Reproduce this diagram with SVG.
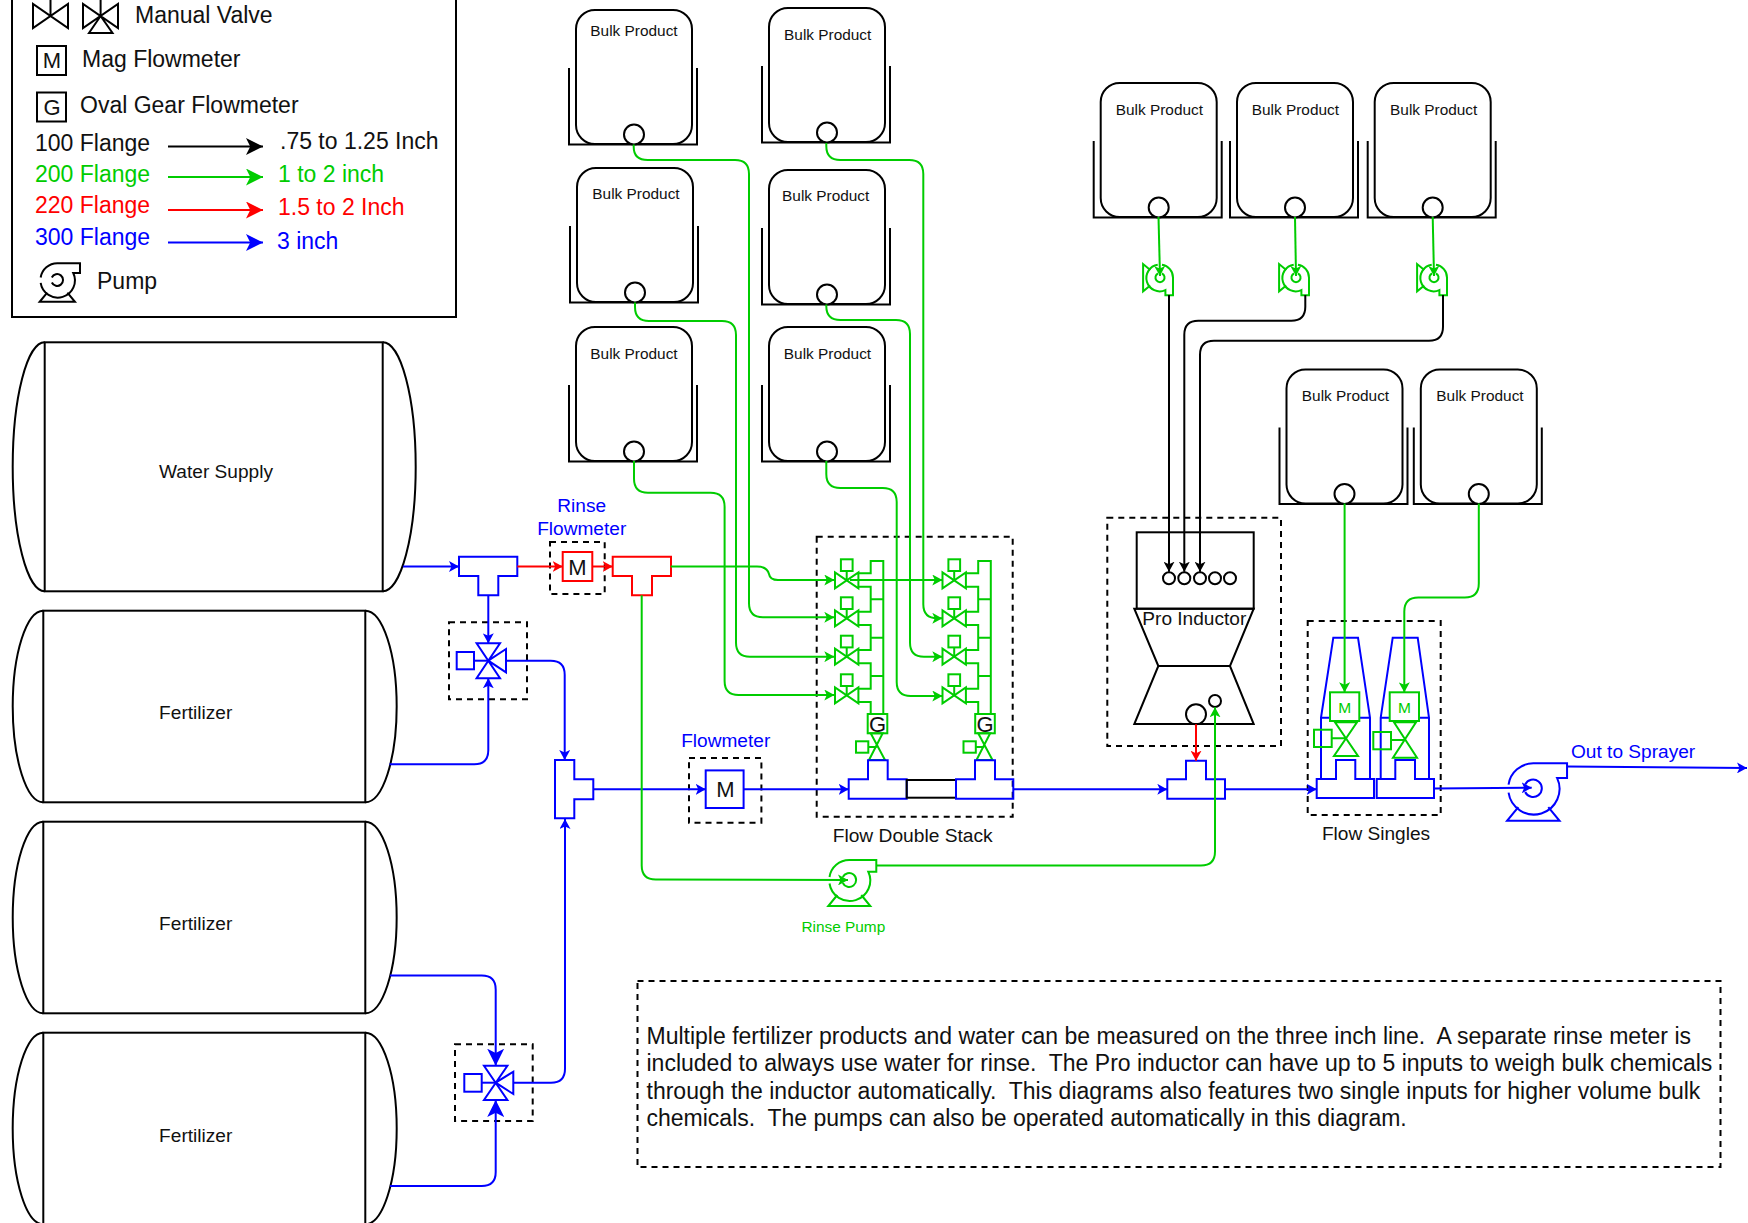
<svg xmlns="http://www.w3.org/2000/svg" width="1748" height="1223" viewBox="0 0 1748 1223">
<style>
text{font-family:"Liberation Sans",Arial,sans-serif;fill:#111;white-space:pre}
.c{text-anchor:middle}
.k{fill:none;stroke:#000;stroke-width:2}
.w{fill:#fff;stroke:#000;stroke-width:2}
.b{fill:none;stroke:#00f;stroke-width:2}
.bw{fill:#fff;stroke:#00f;stroke-width:2}
.g{fill:none;stroke:#0c0;stroke-width:2}
.gw{fill:#fff;stroke:#0c0;stroke-width:2}
.r{fill:none;stroke:#f00;stroke-width:2}
.rw{fill:#fff;stroke:#f00;stroke-width:2}
.d{fill:none;stroke:#000;stroke-width:2;stroke-dasharray:6 5}
.ns *{vector-effect:non-scaling-stroke}
.t15{font-size:15.4px}.t19{font-size:19.1px}.t20{font-size:19.2px}.t22{font-size:23px}
.tb{fill:#00f}.tg{fill:#0c0}.tr{fill:#f00}
</style>
<defs>
<marker id="ak" markerUnits="userSpaceOnUse" viewBox="0 0 10 10" refX="10" refY="5" markerWidth="10" markerHeight="11" orient="auto" preserveAspectRatio="none"><path d="M0,0L10,5L0,10L2.5,5z" fill="#000"/></marker>
<marker id="ab" markerUnits="userSpaceOnUse" viewBox="0 0 10 10" refX="10" refY="5" markerWidth="10" markerHeight="11" orient="auto" preserveAspectRatio="none"><path d="M0,0L10,5L0,10L2.5,5z" fill="#00f"/></marker>
<marker id="ag" markerUnits="userSpaceOnUse" viewBox="0 0 10 10" refX="10" refY="5" markerWidth="10" markerHeight="11" orient="auto" preserveAspectRatio="none"><path d="M0,0L10,5L0,10L2.5,5z" fill="#0c0"/></marker>
<marker id="ar" markerUnits="userSpaceOnUse" viewBox="0 0 10 10" refX="10" refY="5" markerWidth="10" markerHeight="11" orient="auto" preserveAspectRatio="none"><path d="M0,0L10,5L0,10L2.5,5z" fill="#f00"/></marker>
<marker id="akl" markerUnits="userSpaceOnUse" viewBox="0 0 10 10" refX="10" refY="5" markerWidth="17" markerHeight="17" orient="auto" preserveAspectRatio="none"><path d="M0,0L10,5L0,10L2.5,5z" fill="#000"/></marker>
<marker id="abl" markerUnits="userSpaceOnUse" viewBox="0 0 10 10" refX="10" refY="5" markerWidth="17" markerHeight="17" orient="auto" preserveAspectRatio="none"><path d="M0,0L10,5L0,10L2.5,5z" fill="#00f"/></marker>
<marker id="agl" markerUnits="userSpaceOnUse" viewBox="0 0 10 10" refX="10" refY="5" markerWidth="17" markerHeight="17" orient="auto" preserveAspectRatio="none"><path d="M0,0L10,5L0,10L2.5,5z" fill="#0c0"/></marker>
<marker id="arl" markerUnits="userSpaceOnUse" viewBox="0 0 10 10" refX="10" refY="5" markerWidth="17" markerHeight="17" orient="auto" preserveAspectRatio="none"><path d="M0,0L10,5L0,10L2.5,5z" fill="#f00"/></marker>
<g id="pump" class="ns">
<path d="M-19.8,-3A20,20 0 0 1 0,-20H27V-8.3H19A20.5,20.5 0 1 1 -19.8,3.5" fill="none"/>
<path d="M-6.5,-3A7,7 0 1 1 -6.5,3" fill="none"/>
<path d="M-12,15L-21,26H21L12,15" fill="none"/>
</g>
<g id="bulk">
<path class="k" d="M-7,58V134.500H121V58"/>
<rect class="w" x="0" y="0" width="116" height="134" rx="19"/>
<circle class="w" cx="58" cy="124.500" r="10"/>
</g>
<g id="hv" class="g">
<path d="M-11.700,-8V8L11.700,-8V8z"/>
<path d="M0,0V-9.500"/>
<rect x="-5.800" y="-21" width="11.700" height="11.700"/>
</g>
<g id="stack" class="g">
<use href="#hv" x="846.700" y="580.300"/>
<use href="#hv" x="846.700" y="618.300"/>
<use href="#hv" x="846.700" y="656.700"/>
<use href="#hv" x="846.700" y="695.300"/>
<path d="M858.300,573.300H870.700V561H883.300V714M858.300,586.700H870.700V599.300H883.300M858.300,611.700H870.700V599.300M858.300,625H870.700V637.700H883.300M858.300,650H870.700V637.700M858.300,663.300H870.700V676H883.300M858.300,688.700H870.700V676M858.300,702H870.700V714"/>
<rect class="gw" x="867.700" y="714" width="19.600" height="19.300"/>
<path d="M870.700,733.300H882.700L869,760H885z"/>
<path d="M876.700,747H868.300"/>
<rect x="856" y="741.300" width="12.300" height="11.400"/>
</g>
<path id="cap" d="M0,0H58.300V19.300H39.300V38.600H19.300V19.300H0z"/>
</defs>

<g id="legend">
<path class="k" d="M12,-5V317H456V-5"/>
<path class="k" d="M33,4V28L68,4V28zM50.500,16V0"/>
<path class="k" d="M83,4V28L118,4V28zM100.600,16V0M100.600,16L89,33H112.500z"/>
<rect class="k" x="37" y="46" width="29" height="29"/><text class="c" x="52" y="68" font-size="22">M</text>
<rect class="k" x="37" y="92.500" width="29" height="29"/><text class="c" x="52" y="114.500" font-size="22">G</text>
<text class="t22" x="135" y="23">Manual Valve</text>
<text class="t22" x="82" y="67">Mag Flowmeter</text>
<text class="t22" x="80" y="113">Oval Gear Flowmeter</text>
<text class="t22" x="35" y="151">100 Flange</text>
<text class="t22 tg" x="35" y="182">200 Flange</text>
<text class="t22 tr" x="35" y="213">220 Flange</text>
<text class="t22 tb" x="35" y="245">300 Flange</text>
<text class="t22" x="280" y="149">.75 to 1.25 Inch</text>
<text class="t22 tg" x="278" y="182">1 to 2 inch</text>
<text class="t22 tr" x="278" y="215">1.5 to 2 Inch</text>
<text class="t22 tb" x="277" y="249">3 inch</text>
<text class="t22" x="97" y="289">Pump</text>
<path class="k" d="M168,146.500H263" marker-end="url(#akl)"/>
<path class="g" d="M168,177H263" marker-end="url(#agl)"/>
<path class="r" d="M168,210H263" marker-end="url(#arl)"/>
<path class="b" d="M168,242.500H263" marker-end="url(#abl)"/>
<use href="#pump" transform="translate(57.300,280) scale(.84)" stroke="#000" stroke-width="2"/>
</g>

<g id="water-supply">
<rect class="w" x="44.700" y="342.300" width="338" height="249"/>
<path class="k" d="M44.700,342.300A32,124.500 0 0 0 44.700,591.300M382.700,342.300A33,124.500 0 0 1 382.700,591.300"/>
<text class="c t19" x="216" y="477.500">Water Supply</text>
</g>
<g id="fertilizer-1">
<rect class="w" x="43.300" y="610.700" width="322" height="191.600"/>
<path class="k" d="M43.300,610.700A30.600,95.800 0 0 0 43.300,802.300M365.300,610.700A31.400,95.800 0 0 1 365.300,802.300"/>
<text class="c t19" x="195.700" y="719">Fertilizer</text>
</g>
<g id="fertilizer-2">
<rect class="w" x="43.300" y="821.700" width="322" height="191.600"/>
<path class="k" d="M43.300,821.700A30.600,95.800 0 0 0 43.300,1013.300M365.300,821.700A31.400,95.800 0 0 1 365.300,1013.300"/>
<text class="c t19" x="195.700" y="929.500">Fertilizer</text>
</g>
<g id="fertilizer-3">
<rect class="w" x="43.300" y="1032.700" width="322" height="191.600"/>
<path class="k" d="M43.300,1032.700A30.600,95.800 0 0 0 43.300,1224.300M365.300,1032.700A31.400,95.800 0 0 1 365.300,1224.300"/>
<text class="c t19" x="195.700" y="1141.500">Fertilizer</text>
</g>

<g id="bulk-1"><use href="#bulk" x="576" y="10"/><text class="c t15" x="634" y="36">Bulk Product</text></g>
<g id="bulk-2"><use href="#bulk" x="769" y="8"/><text class="c t15" x="827.700" y="40">Bulk Product</text></g>
<g id="bulk-3"><use href="#bulk" x="577" y="168"/><text class="c t15" x="636" y="199">Bulk Product</text></g>
<g id="bulk-4"><use href="#bulk" x="769" y="170"/><text class="c t15" x="825.700" y="201">Bulk Product</text></g>
<g id="bulk-5"><use href="#bulk" x="576" y="327"/><text class="c t15" x="634" y="359">Bulk Product</text></g>
<g id="bulk-6"><use href="#bulk" x="769" y="327"/><text class="c t15" x="827.500" y="359">Bulk Product</text></g>
<g id="bulk-7"><use href="#bulk" x="1100.700" y="83"/><text class="c t15" x="1159.400" y="115">Bulk Product</text></g>
<g id="bulk-8"><use href="#bulk" x="1237" y="83"/><text class="c t15" x="1295.400" y="115">Bulk Product</text></g>
<g id="bulk-9"><use href="#bulk" x="1374.700" y="83"/><text class="c t15" x="1433.700" y="115">Bulk Product</text></g>
<g id="bulk-10"><use href="#bulk" x="1286.500" y="369.500"/><text class="c t15" x="1345.500" y="401">Bulk Product</text></g>
<g id="bulk-11"><use href="#bulk" x="1420.800" y="369.500"/><text class="c t15" x="1480" y="401">Bulk Product</text></g>

<g id="water-tee"><use href="#cap" class="b" x="459" y="556.700"/></g>
<g id="rinse-flowmeter">
<rect class="d" x="550" y="542" width="54.700" height="52"/>
<rect class="rw" x="562.700" y="552" width="29.600" height="29"/>
<text class="c" x="577.500" y="574.500" font-size="22">M</text>
<text class="c t19 tb" x="581.700" y="512">Rinse</text>
<text class="c t19 tb" x="581.700" y="535">Flowmeter</text>
</g>
<g id="rinse-tee"><use href="#cap" class="r" x="612.700" y="556.700"/></g>
<g id="valve-1" class="b">
<rect class="d" x="449" y="622.300" width="78" height="77"/>
<path d="M476.600,643.300H500L476.600,678.300H500zM488.300,660.700L506,649V672.400z"/>
<path d="M488.300,660.700H474"/>
<rect x="456.700" y="652" width="17.300" height="17.300"/>
</g>
<g id="valve-2" class="b">
<rect class="d" x="455" y="1044.300" width="77.700" height="76.700"/>
<path d="M484,1065.700H507.400L484,1100H507.400zM495.700,1082.700L513.300,1071.700V1094z"/>
<path d="M495.700,1082.700H481.700"/>
<rect x="464.300" y="1074" width="17.400" height="17.700"/>
</g>
<g id="merge-tee"><path class="b" d="M555,760H574.300V779.300H593.300V799.300H574.300V818.300H555z"/></g>
<g id="flowmeter">
<rect class="d" x="689" y="758" width="72.400" height="64.700"/>
<rect class="bw" x="705.700" y="770.400" width="37.900" height="37.600"/>
<text class="c" x="725.500" y="797" font-size="22">M</text>
<text class="c t19 tb" x="725.700" y="747">Flowmeter</text>
</g>
<g id="flow-double-stack">
<rect class="d" x="816.700" y="536.700" width="196" height="280"/>
<use href="#stack"/>
<use href="#stack" x="107.500"/>
<text class="c" x="877.500" y="732" font-size="22">G</text>
<text class="c" x="985" y="732" font-size="22">G</text>
<path class="b" d="M848.700,779.300H868V760.300H887.700V779.300H906.700V798.700H848.700z"/>
<rect class="k" x="906.700" y="780" width="49.300" height="17.700"/>
<path class="b" d="M956,779.300H975V760.300H995V779.300H1013.300V798.700H956z"/>
<text class="c t20" x="912.700" y="841.700">Flow Double Stack</text>
</g>
<g id="pro-inductor">
<rect class="d" x="1107.300" y="517.700" width="173.700" height="228.300"/>
<rect class="k" x="1136.700" y="532.300" width="117" height="76.400"/>
<path class="k" d="M1134.300,608.700H1253.700L1230,666H1158.300zM1158.300,666H1230L1253.700,724H1134.300z"/>
<circle class="k" cx="1169" cy="578.300" r="6"/>
<circle class="k" cx="1184.300" cy="578.300" r="6"/>
<circle class="k" cx="1200" cy="578.300" r="6"/>
<circle class="k" cx="1215" cy="578.300" r="6"/>
<circle class="k" cx="1230" cy="578.300" r="6"/>
<circle class="k" cx="1196" cy="714.300" r="10"/>
<circle class="k" cx="1215" cy="701" r="6"/>
<text class="c t19" x="1194.300" y="625">Pro Inductor</text>
</g>
<g id="inductor-tee"><path class="b" d="M1167.300,779.300H1186V760.700H1206V779.300H1225V798.700H1167.300z"/></g>
<g id="flow-singles">
<rect class="d" x="1307.700" y="621" width="133" height="194"/>
<path class="b" d="M1321,779V717.700L1333.300,637.700H1358L1370,717.700V779M1321,717.700H1370"/>
<path class="b" d="M1380.700,779V717.700L1392.700,637.700H1417.700L1429,717.700V779M1380.700,717.700H1429"/>
<path class="b" d="M1316.700,779H1336V760H1355.300V779H1374V798H1316.700z"/>
<path class="b" d="M1376.700,779H1395.300V760H1415V779H1434V798H1376.700z"/>
<rect class="gw" x="1330" y="692.300" width="29.300" height="28.700"/>
<rect class="gw" x="1389.700" y="692.300" width="29.300" height="28.700"/>
<text class="c tg" x="1344.700" y="713" font-size="15.500">M</text>
<text class="c tg" x="1404.400" y="713" font-size="15.500">M</text>
<path class="g" d="M1335,722.300H1357L1334,756H1358zM1346,738.300H1331.700"/>
<rect class="g" x="1314" y="729.700" width="17.700" height="17.300"/>
<path class="g" d="M1394,722.300H1416L1393,757.700H1417zM1405,740H1391"/>
<rect class="g" x="1373.300" y="732" width="17.700" height="17.300"/>
<text class="c t19" x="1376" y="839.500">Flow Singles</text>
</g>
<g id="rinse-pump">
<use href="#pump" transform="translate(849.300,880)" stroke="#0c0" stroke-width="2"/>
<text class="c t15 tg" x="843.300" y="932">Rinse Pump</text>
</g>
<g id="main-pump">
<use href="#pump" transform="translate(1533.300,788.300) scale(1.25)" stroke="#00f" stroke-width="2"/>
<text class="t19 tb" x="1571" y="758">Out to Sprayer</text>
</g>
<g id="pump-1"><use href="#pump" transform="translate(1160,277.700) rotate(90) scale(.65)" stroke="#0c0" stroke-width="2"/></g>
<g id="pump-2"><use href="#pump" transform="translate(1296,277.700) rotate(90) scale(.65)" stroke="#0c0" stroke-width="2"/></g>
<g id="pump-3"><use href="#pump" transform="translate(1434,277.700) rotate(90) scale(.65)" stroke="#0c0" stroke-width="2"/></g>
<g id="note">
<rect class="d" x="637.500" y="981" width="1083" height="186"/>
<text class="t22" x="646.500" y="1044">Multiple fertilizer products and water can be measured on the three inch line.  A separate rinse meter is</text>
<text class="t22" x="646.500" y="1071">included to always use water for rinse.  The Pro inductor can have up to 5 inputs to weigh bulk chemicals</text>
<text class="t22" x="646.500" y="1099">through the inductor automatically.  This diagrams also features two single inputs for higher volume bulk</text>
<text class="t22" x="646.500" y="1126">chemicals.  The pumps can also be operated automatically in this diagram.</text>
</g>

<g id="connectors">
<path class="b" d="M403,566.500H459" marker-end="url(#ab)"/>
<path class="r" d="M517.300,566.500H562.700" marker-end="url(#ar)"/>
<path class="r" d="M592.300,566.500H612.700" marker-end="url(#ar)"/>
<path class="b" d="M488.300,595.300V643.300" marker-end="url(#ab)"/>
<path class="b" d="M389.500,764.300H474.300Q488.300,764.300 488.300,750.300V678.300" marker-end="url(#ab)"/>
<path class="b" d="M506,660.700H550.700Q564.700,660.700 564.700,674.700V760" marker-end="url(#ab)"/>
<path class="b" d="M390,975.500H481.700Q495.700,975.500 495.700,989.500V1065.700" marker-end="url(#abl)"/>
<path class="b" d="M390,1186H481.700Q495.700,1186 495.700,1172V1100" marker-end="url(#abl)"/>
<path class="b" d="M513.300,1082.700H551Q565,1082.700 565,1068.700V819" marker-end="url(#ab)"/>
<path class="b" d="M593.300,789.300H705.700" marker-end="url(#ab)"/>
<path class="b" d="M743.600,789.300H848.700" marker-end="url(#ab)"/>
<path class="b" d="M1013.300,789.300H1167.300" marker-end="url(#ab)"/>
<path class="b" d="M1225,789.300H1316.700" marker-end="url(#ab)"/>
<path class="b" d="M1434,788.500L1531.700,787.700" marker-end="url(#ab)"/>
<path class="b" d="M1567,766.500L1747,768" marker-end="url(#ab)"/>
<path class="r" d="M1196,724.300V760.700" marker-end="url(#ar)"/>
<path class="g" d="M641.700,595.300V865.600Q641.700,879.600 655.700,879.600L848,880" marker-end="url(#ag)"/>
<path class="g" d="M876,865.500H1201Q1215,865.500 1215,851.500V707.300" marker-end="url(#ag)"/>
<path class="g" d="M670.700,566.500H757Q767,566.500 769,574Q770,580 778,580H834.300" marker-end="url(#ag)"/>
<path class="g" d="M850,580H942.300" marker-end="url(#ag)"/>
<path class="g" d="M633.700,144.500V147Q633.700,160 647.700,160H735Q749,160 749,174V603.300Q749,617.300 763,617.300H834.300" marker-end="url(#ag)"/>
<path class="g" d="M635,302.500V307Q635,321 649,321H722Q736,321 736,335V642.700Q736,656.700 750,656.700H834.300" marker-end="url(#ag)"/>
<path class="g" d="M634,461V478.700Q634,492.700 648,492.700H710.600Q724.600,492.700 724.600,506.700V681Q724.600,695 738.600,695H834.300" marker-end="url(#ag)"/>
<path class="g" d="M826.300,143V146Q826.300,160 840.300,160H909.300Q923.300,160 923.300,174V604.300Q923.300,618.300 937.300,618.300H942.300" marker-end="url(#ag)"/>
<path class="g" d="M826.300,304.500V306Q826.300,320 840.300,320H896Q910,320 910,334V642.700Q910,656.700 924,656.700H942.300" marker-end="url(#ag)"/>
<path class="g" d="M826.300,461V474Q826.300,488 840.300,488H882.700Q896.700,488 896.700,502V682Q896.700,696 910.700,696H942.300" marker-end="url(#ag)"/>
<path class="g" d="M1158.500,217L1160,276" marker-end="url(#ag)"/>
<path class="g" d="M1295,217L1296,276" marker-end="url(#ag)"/>
<path class="g" d="M1432.700,217L1434,276" marker-end="url(#ag)"/>
<path class="k" d="M1169,295V571.700" marker-end="url(#ak)"/>
<path class="k" d="M1305.300,295V306.700Q1305.300,320.700 1291.300,320.700H1198.300Q1184.300,320.700 1184.300,334.700V571.700" marker-end="url(#ak)"/>
<path class="k" d="M1443,295V326.700Q1443,340.700 1429,340.700H1214Q1200,340.700 1200,354.700V571.700" marker-end="url(#ak)"/>
<path class="g" d="M1344.600,503.500V692.300" marker-end="url(#ag)"/>
<path class="g" d="M1478.800,503.500V583.500Q1478.800,597.500 1464.800,597.500H1418.300Q1404.300,597.500 1404.300,611.500V692.300" marker-end="url(#ag)"/>
</g>
</svg>
